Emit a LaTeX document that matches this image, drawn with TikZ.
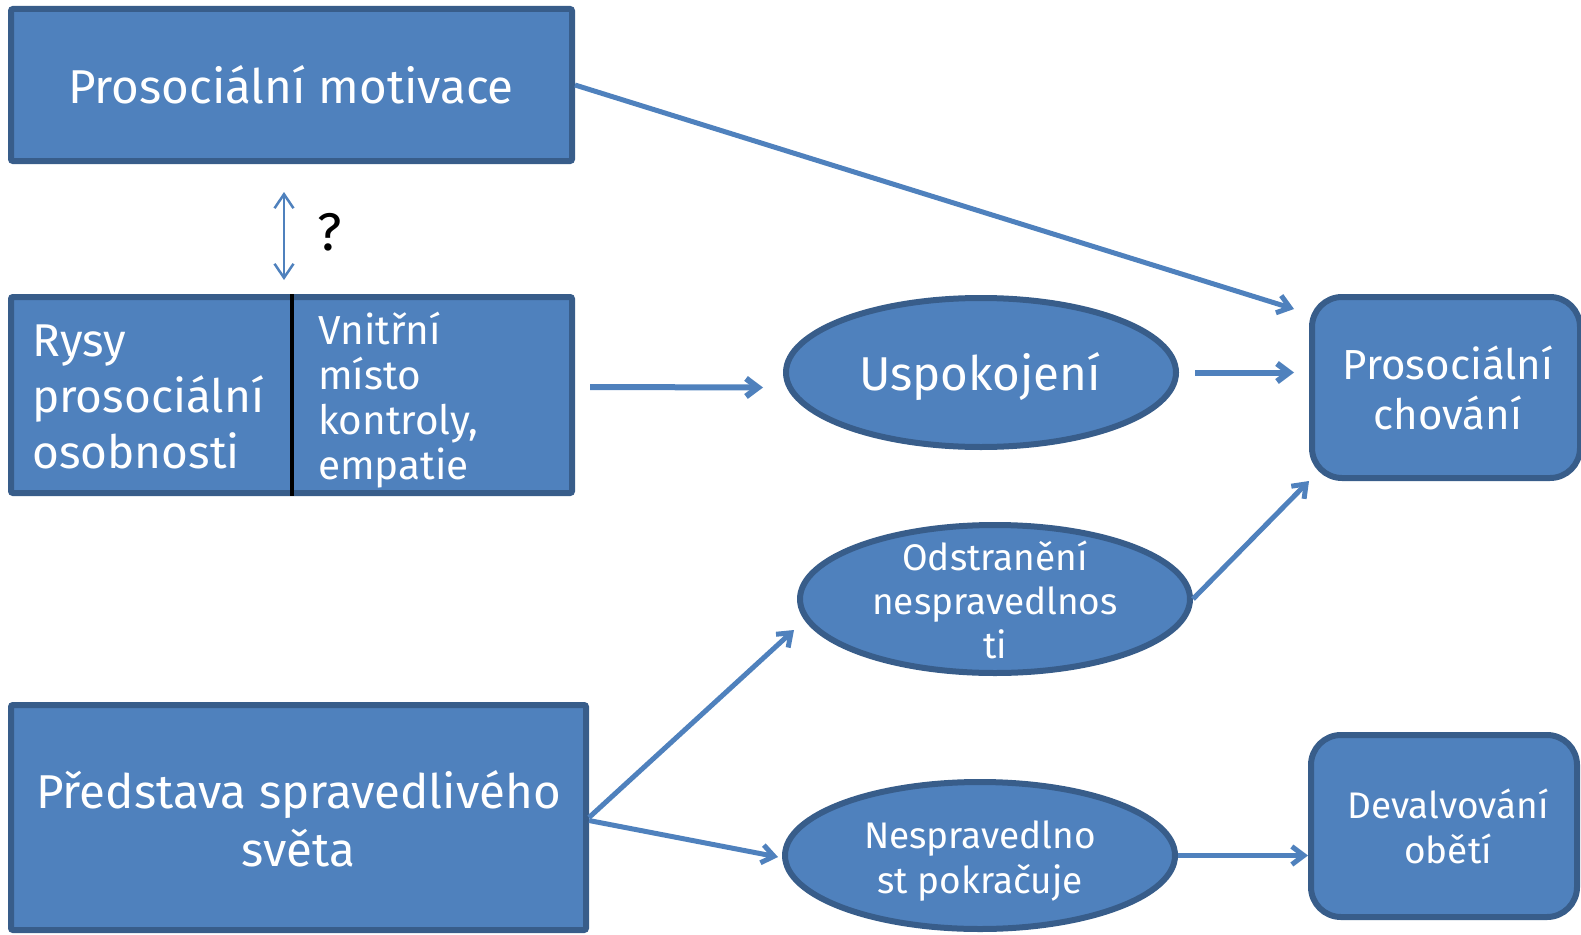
\documentclass[tikz,border=0pt]{standalone}
\usepackage{fontspec}
\setmainfont{Fira Sans}
\usetikzlibrary{arrows.meta,shapes.geometric,calc}
\definecolor{fillb}{HTML}{4F81BD}
\definecolor{edgeb}{HTML}{385D8A}
\tikzset{
  box/.style={draw=edgeb, fill=fillb, line width=6pt, rounded corners=2pt, inner sep=0pt, text=white},
  rbox/.style={box, rounded corners=30pt},
  ell/.style={ellipse, draw=edgeb, fill=fillb, line width=6pt, inner sep=0pt},
  wtxt/.style={text=white, inner sep=0pt},
  arrowline/.style={draw=fillb, line width=6pt, -{Straight Barb[length=12pt,width=18pt]}},
  darr/.style={draw=fillb, line width=2.5pt, {Straight Barb[length=14pt,width=19pt]}-{Straight Barb[length=14pt,width=19pt]}},
}
\newcommand{\fs}[2]{\fontsize{#1pt}{#2pt}\selectfont}
\begin{document}
\begin{tikzpicture}[x=1pt,y=-1pt]
\useasboundingbox (0,0) rectangle (1581,934);
% boxes
\node[box, minimum width=561, minimum height=152] (mot) at (291.5,85) {};
\node[wtxt, font=\fs{47.5}{57}, anchor=base] (motT) at (291,103) {Prosociální motivace};
\node[box, minimum width=561, minimum height=196] (rys) at (291.5,395) {};
\draw[black, line width=4pt] (rys.north) -- (rys.south);
\node[wtxt, font=\fs{46}{56}, align=left, anchor=west] (rysT) at (32,397) {Rysy\\prosociální\\osobnosti};
\node[wtxt, font=\fs{40.5}{45}, align=left, anchor=west] (vnT) at (318,400.5) {Vnitřní\\místo\\kontroly,\\empatie};
\node[box, minimum width=575, minimum height=225] (pred) at (298.5,817.5) {};
\node[wtxt, font=\fs{47.5}{58}, align=center] (predT) at (298.5,819) {Představa spravedlivého\\světa};
% ellipses
\node[ell, minimum width=390, minimum height=149] (usp) at (981,372.5) {};
\node[wtxt, font=\fs{47.5}{57}] (uspT) at (980,377) {Uspokojení};
\node[ell, minimum width=390, minimum height=148] (odst) at (995,599) {};
\node[wtxt, font=\fs{37}{44}, align=center] (odstT) at (995,600) {Odstranění\\nespravedlnos\\ti};
\node[ell, minimum width=390, minimum height=147] (nesp) at (980,855.5) {};
\node[wtxt, font=\fs{37}{45}, align=center] (nespT) at (980,861) {Nespravedlno\\st pokračuje};
% rounded boxes
\node[rbox, minimum width=268, minimum height=181] (chov) at (1446,387.5) {};
\node[wtxt, font=\fs{42}{50}, align=center] (chovT) at (1448,388) {Prosociální\\chování};
\node[rbox, minimum width=266, minimum height=182] (dev) at (1444,826) {};
\node[wtxt, font=\fs{37}{45}, align=center] (devT) at (1448,826) {Devalvování\\obětí};
% question
\coordinate (dA) at (284,192);
\coordinate (dB) at (284,280);
\draw[darr] (dA) -- (dB);
\node[font=\fs{53}{55}, text=black, inner sep=0pt] (q) at (330,232) {?};
% arrows
\draw[arrowline, line width=5pt] (mot.east) -- ($(chov.north west)+(-15,15)$);
\draw[arrowline] ($(rys.east)+(15,-8)$) -- ($(usp.west)+(-20,15)$);
\draw[arrowline] ($(usp.east)+(16,0)$) -- ($(chov.west |- usp.east)+(-15,0)$);
\draw[arrowline, line width=5pt] (odst.east) -- (chov.south west);
\draw[arrowline, line width=5pt] (pred.east) -- ($(odst.west)+(-3,31)$);
\draw[arrowline, line width=5pt] ($(pred.east)+(0,3)$) -- ($(nesp.west)+(-4,1.5)$);
\draw[arrowline, line width=5pt] (nesp.east) -- (nesp.east -| dev.west);
\end{tikzpicture}
\end{document}
